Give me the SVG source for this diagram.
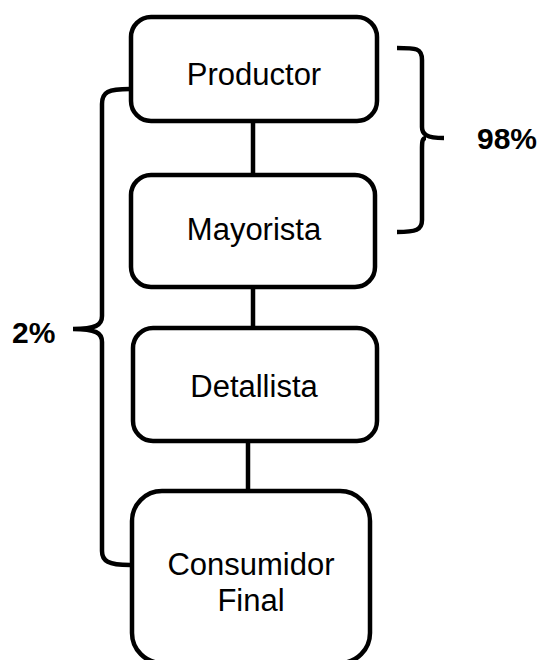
<svg xmlns="http://www.w3.org/2000/svg" width="543" height="660" viewBox="0 0 543 660">
<style>
.box{fill:#fff;stroke:#000;stroke-width:4.5}
.ln{fill:none;stroke:#000;stroke-width:4.5}
.t{font-family:"Liberation Sans",Arial,sans-serif;font-size:31px;fill:#000;text-anchor:middle}
.b{font-family:"Liberation Sans",Arial,sans-serif;font-size:30px;font-weight:bold;fill:#000}
</style>
<rect width="543" height="660" fill="#fff"/>
<g id="connectors">
<line class="ln" x1="253" y1="121" x2="253" y2="176"/>
<line class="ln" x1="253" y1="286" x2="253" y2="329"/>
<line class="ln" x1="248" y1="440" x2="248" y2="492"/>
<path id="brace-left" class="ln" d="M130,89 C108,89 102,92 102,104 L102,316 C102,325 96,329 73,329 C96,329 102,333 102,342 L102,551 C102,561 108,565 130,565"/>
<path id="brace-right" class="ln" d="M397,48 C416,48 422,48 422,60 L422,127 C422,134 426,138 444,138 M426,138 C422,138 422,142 422,150 L422,220 C422,230 416,232 397,232"/>
</g>
<g id="productor">
<rect class="box" x="131" y="17" width="246" height="104" rx="20"/>
<text class="t" x="254" y="85">Productor</text>
</g>
<g id="mayorista">
<rect class="box" x="131" y="175" width="244" height="112" rx="20"/>
<text class="t" x="254" y="240">Mayorista</text>
</g>
<g id="detallista">
<rect class="box" x="133" y="328" width="244" height="113" rx="20"/>
<text class="t" x="254" y="397">Detallista</text>
</g>
<g id="consumidor">
<rect class="box" x="132" y="491" width="238" height="172" rx="30"/>
<text class="t" x="251" y="575">Consumidor</text>
<text class="t" x="251" y="611">Final</text>
</g>
<g id="labels">
<text class="b" x="12" y="343">2%</text>
<text class="b" x="477" y="149">98%</text>
</g>
</svg>
